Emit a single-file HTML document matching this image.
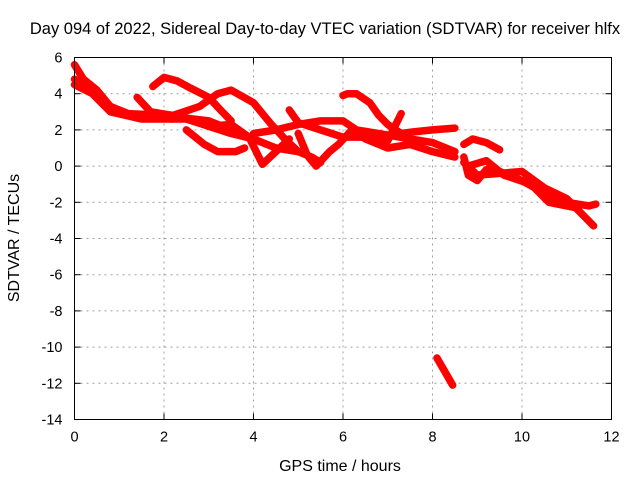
<!DOCTYPE html>
<html><head><meta charset="utf-8"><style>
body{margin:0;background:#fff}
svg{display:block;font-family:"Liberation Sans",sans-serif}
</style></head><body>
<svg id="chart" width="640" height="480">
<text x="325" y="34" font-size="16.5" text-anchor="middle">Day 094 of 2022, Sidereal Day-to-day VTEC variation (SDTVAR) for receiver hlfx</text>
<text x="340" y="471" font-size="16" text-anchor="middle">GPS time / hours</text>
<text transform="translate(19,238) rotate(-90)" font-size="16" text-anchor="middle">SDTVAR / TECUs</text>
<g id="grid"></g><g id="ticks"></g><g id="marks"></g>
<rect x="74.5" y="57.5" width="537" height="362" fill="none" stroke="#000" stroke-width="1"/>
</svg>
<script>
const xTicks=[0,2,4,6,8,10,12];
const yTicks=[6,4,2,0,-2,-4,-6,-8,-10,-12,-14];
const trackA=[[0,5.6],[0.2,4.8],[0.5,4.2],[0.8,3.3],[1.2,2.9],[2,2.8],[3,2.5],[3.5,2.0]];
const trackA2=[[0,4.8],[0.3,4.4],[0.6,3.6],[1,3.0],[1.5,2.7],[2.2,2.6]];
const trackB=[[0,4.5],[0.4,4.0],[0.8,3.0],[1.5,2.6],[2.5,2.6],[3,2.2],[3.5,1.8],[4,1.5],[4.5,1.0],[5,0.8]];
const trackC=[[1.75,4.4],[2,4.9],[2.3,4.7],[2.6,4.3],[3.0,3.8],[3.3,3.0],[3.5,2.5]];
const trackD=[[1.4,3.8],[1.7,3.0],[2.2,2.8],[2.8,3.3],[3.2,4.0],[3.5,4.2],[4,3.5],[4.4,2.3],[4.7,1.5],[5,0.8],[5.3,0.5],[5.5,0.2]];
const trackE=[[2.5,2.0],[2.9,1.2],[3.2,0.8],[3.6,0.8],[3.8,1.0]];
const trackF=[[3.0,2.2],[3.5,2.3],[3.9,1.6],[4.2,0.1],[4.5,0.8],[4.8,1.5]];
const trackG=[[4,1.8],[4.5,2.0],[5,2.3],[5.5,2.5],[6,2.5],[6.3,2.0],[6.8,1.8],[7.5,1.5],[8,1.3],[8.5,0.8]];
const trackH=[[5.0,1.8],[5.2,0.6],[5.4,0.0],[5.7,0.8],[5.9,1.2],[6.2,2.0],[6.5,1.5],[7,1.0],[7.5,1.2],[8,0.8],[8.5,0.5]];
const trackI=[[6,3.9],[6.1,4.0],[6.3,4.0],[6.6,3.5],[6.8,2.8],[7.0,2.3],[7.3,1.8],[7.6,1.9],[8.0,2.0],[8.5,2.1]];
const trackJ=[[4.8,3.1],[5.0,2.4],[5.5,2.0],[6,1.6],[6.5,1.6],[7,1.4],[7.3,2.9]];
const trackK=[[8.7,1.2],[8.9,1.5],[9.2,1.3],[9.5,0.9]];
const trackL=[[8.7,0.5],[8.8,-0.5],[9,-0.8],[9.2,-0.2],[9.5,-0.3],[10,-0.8],[10.5,-1.5],[11,-2.0],[11.5,-2.2],[11.65,-2.1]];
const trackM=[[8.7,0.2],[9,-0.5],[9.5,-0.4],[10,-0.3],[10.5,-1.2],[11,-1.8],[11.6,-3.3]];
const trackN=[[8.8,0.0],[9.2,0.3],[9.6,-0.5],[10.2,-1.0],[10.6,-2.0],[11.2,-2.3]];
const trackO=[[8.1,-10.6],[8.45,-12.1]];
const tracks=[trackA,trackA2,trackB,trackC,trackD,trackE,trackF,trackG,trackH,trackI,trackJ,trackK,trackL,trackM,trackN,trackO];
const NS="http://www.w3.org/2000/svg";
const X0=74.5,X1=611.5,Y0=57.5,Y1=419.5;
const xs=v=>X0+(v-0)/12*(X1-X0);
const ys=v=>Y0+(6-v)/20*(Y1-Y0);
function mk(t,a,p){const e=document.createElementNS(NS,t);for(const k in a)e.setAttribute(k,a[k]);p.appendChild(e);return e;}
const grid=document.getElementById('grid'),ticks=document.getElementById('ticks'),marks=document.getElementById('marks');
xTicks.forEach(v=>{const x=xs(v);
 if(v>0&&v<12){const g=mk('line',{x1:x,x2:x,y1:Y0,y2:Y1,stroke:'#a0a0a0','stroke-dasharray':'2,4'},grid);
 
 }
 mk('line',{x1:x,x2:x,y1:Y1,y2:Y1-6,stroke:'#000'},ticks);mk('line',{x1:x,x2:x,y1:Y0,y2:Y0+6,stroke:'#000'},ticks);
 const t=mk('text',{x:x,y:Y1+22,'font-size':14.5,'text-anchor':'middle'},ticks);t.textContent=v;
 
 });
yTicks.forEach(v=>{const y=ys(v);
 if(v<6&&v>-14){const g=mk('line',{x1:X0,x2:X1,y1:y,y2:y,stroke:'#a0a0a0','stroke-dasharray':'2,4'},grid);
 
 }
 mk('line',{x1:X0,x2:X0+6,y1:y,y2:y,stroke:'#000'},ticks);mk('line',{x1:X1,x2:X1-6,y1:y,y2:y,stroke:'#000'},ticks);
 const t=mk('text',{x:X0-12,y:y+5,'font-size':14.5,'text-anchor':'end'},ticks);t.textContent=v;
 
 });
tracks.forEach((tr,i)=>{const p=mk('polyline',{points:tr.map(d=>xs(d[0])+','+ys(d[1])).join(' '),fill:'none',stroke:'#ff0000','stroke-width':7.5,'stroke-linejoin':'round','stroke-linecap':'round'},marks);
 
 });
</script>
</body></html>
